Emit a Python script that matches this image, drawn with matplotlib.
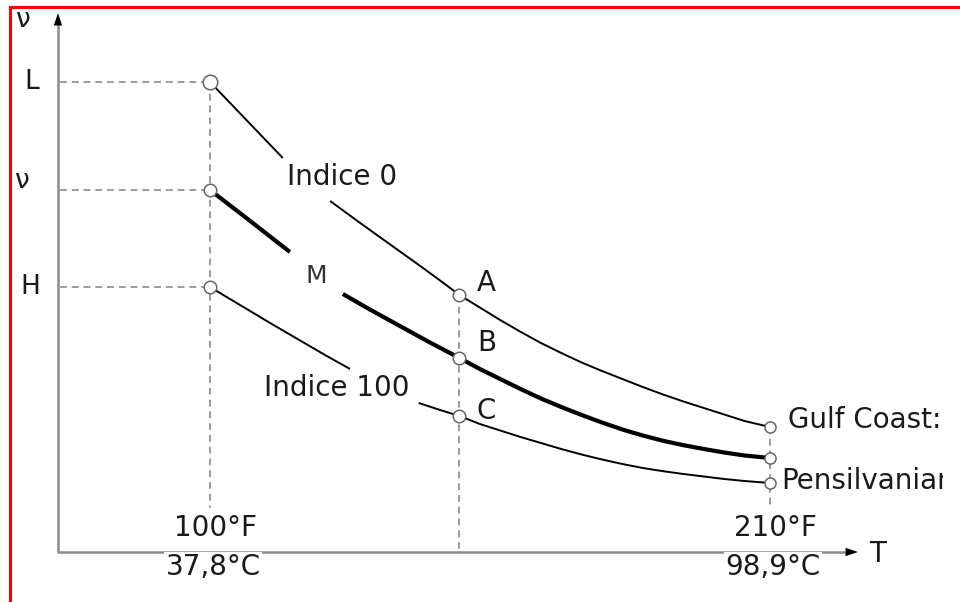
import matplotlib
matplotlib.use("Agg")
import matplotlib.pyplot as plt
from matplotlib.lines import Line2D
from matplotlib.patches import Rectangle

plt.rcParams['font.family'] = ['DejaVu Sans']

# ---- data (temperature in °F, viscosity in arbitrary units) ----
T_low, T_mid, T_high = 100, 149, 210
v_L, v_nu, v_H = 47.0, 36.2, 26.5
v_A, v_B, v_C = 25.7, 19.4, 13.6
v_gulf, v_mend, v_pens = 12.5, 9.4, 6.9

T_right = [149, 153, 157, 161, 165, 169, 173, 177, 181, 185, 189, 193, 197, 201, 205, 210]

# Indice 0 curve (pieces interrupted by its label)
i0_T1 = [100, 114.3]
i0_v1 = [47.0, 39.4]
i0_T2 = [123.6, 129.5, 135.4, 141.3, 145.2, 149]
i0_v2 = [35.1, 32.9, 30.75, 28.6, 27.15, 25.7]
i0_v3 = [25.7, 24.45, 23.2, 22.02, 20.9, 19.9, 18.95, 18.1, 17.3, 16.5, 15.75, 15.05,
         14.4, 13.75, 13.1, 12.5]

# M curve (sample oil)
m_T1 = [100, 107.9, 115.7]
m_v1 = [36.2, 33.1, 30.0]
m_T2 = [126.1, 131.4, 137.3, 143.2, 149]
m_v2 = [25.8, 24.25, 22.6, 20.95, 19.4]
m_v3 = [19.4, 18.3, 17.3, 16.3, 15.35, 14.5, 13.7, 12.95, 12.25, 11.65, 11.12, 10.68,
        10.3, 9.95, 9.65, 9.4]

# Indice 100 curve
i100_T1 = [100, 105.9, 111.8, 117.7, 122.6, 127.5]
i100_v1 = [26.5, 24.7, 22.9, 21.15, 19.7, 18.3]
i100_T2 = [141.0, 145.2, 149]
i100_v2 = [14.9, 14.2, 13.6]
i100_v3 = [13.6, 12.8, 12.15, 11.5, 10.9, 10.3, 9.75, 9.25, 8.8, 8.4, 8.08, 7.8, 7.55,
           7.3, 7.1, 6.9]

y_labels = ["L", "ν", "H"]
point_labels = ["A", "B", "C"]
temp_labels_F = ["100°F", "210°F"]
temp_labels_C = ["37,8°C", "98,9°C"]

# ---- figure ----
fig = plt.figure(figsize=(9.6, 6.02), dpi=100)
ax = fig.add_axes([0, 0, 1, 1])
ax.axis('off')
ax.set_xlim(58.75, 247.32)
ax.set_ylim(-5.0, 55.2)

# red frame (top and left)
fig.add_artist(Line2D([9.5/960, 1], [1-6.5/602, 1-6.5/602], transform=fig.transFigure,
                      color='#ff0000', lw=2.2))
fig.add_artist(Line2D([9.5/960, 9.5/960], [0, 1-6.5/602], transform=fig.transFigure,
                      color='#ff0000', lw=2.2))

axis_c = '#8a8a8a'
x_org = 70.14
ax.plot([x_org, x_org, 226.0], [53.0, 0, 0], color=axis_c, lw=1.8, solid_joinstyle='round',
        zorder=1)
astyle = '-|>,head_length=0.6,head_width=0.2'
ax.annotate('', xy=(x_org, 53.9), xytext=(x_org, 52.0),
            arrowprops=dict(arrowstyle=astyle, color='black', lw=0, mutation_scale=15,
                            shrinkA=0, shrinkB=0))
ax.annotate('', xy=(227.3, 0), xytext=(223.6, 0),
            arrowprops=dict(arrowstyle=astyle, color='black', lw=0, mutation_scale=15,
                            shrinkA=0, shrinkB=0))

dash_c = '#808080'
dkw = dict(color=dash_c, lw=1.1, dashes=(4.5, 3.2), zorder=2)
for v in [v_L, v_nu, v_H]:
    ax.plot([70.5, T_low], [v, v], **dkw)
ax.plot([T_low, T_low], [v_L, 4.4], **dkw)
ax.plot([T_mid, T_mid], [v_A, 0], **dkw)
ax.plot([T_high, T_high], [v_gulf, 4.4], **dkw)

# curves
thin = [(i0_T1, i0_v1), (i0_T2, i0_v2), (T_right, i0_v3),
        (i100_T1, i100_v1), (i100_T2, i100_v2), (T_right, i100_v3)]
for Tx, vy in thin:
    ax.plot(Tx, vy, color='black', lw=1.4, zorder=3, solid_capstyle='butt',
            solid_joinstyle='round')
for Tx, vy in [(m_T1, m_v1), (m_T2, m_v2), (T_right, m_v3)]:
    ax.plot(Tx, vy, color='black', lw=3.0, zorder=3, solid_capstyle='butt',
            solid_joinstyle='round')

# markers
mkw = dict(marker='o', mfc='white', mec='#666666', mew=1.1, ls='none', zorder=5)
ax.plot([T_low], [v_L], ms=10.5, **mkw)
ax.plot([T_low, T_low], [v_nu, v_H], ms=9, **mkw)
ax.plot([T_mid] * 3, [v_A, v_B, v_C], ms=9, **mkw)
ax.plot([T_high] * 3, [v_gulf, v_mend, v_pens], ms=8, **mkw)

tc = '#1a1a1a'
fs = 20
ax.text(63.3, 53.2, "ν", fontsize=19, color=tc, ha='center', va='center')
ax.text(231.1, -0.2, "T", fontsize=fs, color=tc, ha='center', va='center')
for lab, v, xoff in zip(y_labels, [v_L, v_nu, v_H], [64.9, 63.1, 64.7]):
    ax.text(xoff, v + (0.05 if lab != "ν" else 0.9), lab, fontsize=19, color=tc,
            ha='center', va='center')

for lab, v in zip(point_labels, [v_A, v_B, v_C]):
    ax.text(T_mid + 5.3, v + {"A": 1.2, "B": 1.5, "C": 0.5}[lab], lab, fontsize=fs,
            color=tc, ha='center', va='center')

ax.text(125.9, 37.5, "Indice 0", fontsize=fs, color=tc, ha='center', va='center')
ax.text(120.9, 27.6, "M", fontsize=18, color='#333333', ha='center', va='center')
ax.text(124.9, 16.4, "Indice 100", fontsize=fs, color=tc, ha='center', va='center')

clip = Rectangle((0, 0), 943/960, 1, transform=fig.transFigure)
t1 = ax.text(213.6, v_gulf + 0.75, "Gulf Coast:", fontsize=fs, color=tc,
             ha='left', va='center')
t2 = ax.text(212.3, v_pens + 0.2, "Pensilvanian", fontsize=fs, color=tc,
             ha='left', va='center')
for t in (t1, t2):
    t.set_clip_on(True)
    t.set_clip_path(clip)

for Tx, lf, lc, xo in zip([T_low, T_high], temp_labels_F, temp_labels_C, [1.1, 1.0]):
    ax.text(Tx + xo, 2.35, lf, fontsize=fs, color=tc, ha='center', va='center')
    ax.text(Tx + 0.6, -1.55, lc, fontsize=fs, color=tc, ha='center', va='center',
            bbox=dict(boxstyle='square,pad=0.05', fc='white', ec='none'), zorder=4)

fig.savefig("out.png", dpi=100)
